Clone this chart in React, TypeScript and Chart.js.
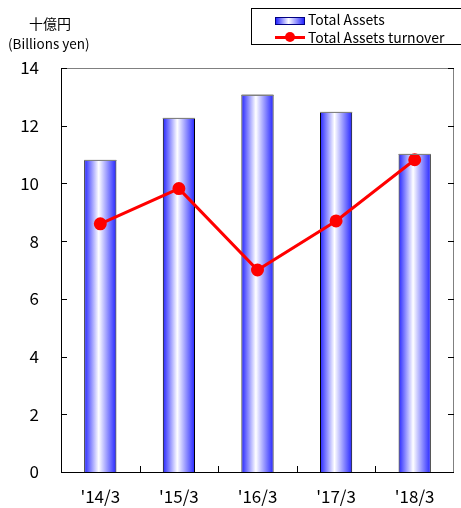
import React, { useEffect, useRef } from "react";
import { Chart, registerables } from "chart.js";

Chart.register(...registerables);

const categories = ["'14/3", "'15/3", "'16/3", "'17/3", "'18/3"];
const totalAssets = [10.82, 12.28, 13.08, 12.48, 11.03];
const assetsTurnover = [8.6, 9.82, 7.0, 8.7, 10.82];
const yTicks = [0, 2, 4, 6, 8, 10, 12, 14];

const FONT = '"Noto Sans CJK JP", "Noto Sans", sans-serif';

const decor = {
  id: "decor",
  beforeDatasetsDraw(chart: any) {
    const ctx = chart.ctx as CanvasRenderingContext2D;
    const meta = chart.getDatasetMeta(0);
    meta.data.forEach((el: any) => {
      const left = el.x - el.width / 2;
      const g = ctx.createLinearGradient(left, 0, left + el.width, 0);
      g.addColorStop(0, "#2424ff");
      g.addColorStop(0.45, "#ffffff");
      g.addColorStop(1, "#2424ff");
      el.options = Object.assign({}, el.options, { backgroundColor: g });
    });
  },
  afterDraw(chart: any) {
    const ctx = chart.ctx as CanvasRenderingContext2D;
    const { left, right, top, bottom } = chart.chartArea;
    const y = chart.scales.y;
    ctx.save();
    ctx.lineWidth = 1;
    ctx.strokeStyle = "#808080";
    ctx.beginPath();
    ctx.moveTo(left, top + 0.5);
    ctx.lineTo(right, top + 0.5);
    ctx.moveTo(right - 0.5, top);
    ctx.lineTo(right - 0.5, bottom);
    // gray top edge of bars
    chart.getDatasetMeta(0).data.forEach((el: any) => {
      const l = el.x - el.width / 2;
      const t = Math.round(el.y) + 0.5;
      ctx.moveTo(l, t);
      ctx.lineTo(l + el.width, t);
    });
    ctx.stroke();
    ctx.strokeStyle = "#000000";
    ctx.beginPath();
    ctx.moveTo(left + 0.5, top);
    ctx.lineTo(left + 0.5, bottom);
    ctx.moveTo(left, bottom + 0.5);
    ctx.lineTo(right, bottom + 0.5);
    yTicks.forEach((v) => {
      const py = Math.round(y.getPixelForValue(v)) + 0.5;
      ctx.moveTo(left, py);
      ctx.lineTo(left + 6, py);
      ctx.moveTo(right, py);
      ctx.lineTo(right - 6, py);
    });
    const n = categories.length;
    const w = (right - left) / n;
    for (let i = 1; i < n; i++) {
      const px = Math.round(left + i * w) + 0.5;
      ctx.moveTo(px, bottom);
      ctx.lineTo(px, bottom - 6);
    }
    ctx.stroke();
    ctx.restore();
  },
};

export default function App() {
  const ref = useRef<HTMLCanvasElement>(null);
  useEffect(() => {
    if (!ref.current) return;
    const chart = new Chart(ref.current, {
      type: "bar",
      data: {
        labels: categories,
        datasets: [
          {
            type: "bar",
            label: "Total Assets",
            data: totalAssets,
            backgroundColor: "#8080ff",
            borderColor: "#000000",
            borderWidth: 1,
            barPercentage: 0.41,
            categoryPercentage: 1,
            order: 2,
          },
          {
            type: "line",
            label: "Total Assets turnover",
            data: assetsTurnover,
            borderColor: "#ff0000",
            backgroundColor: "#ff0000",
            borderWidth: 3,
            pointRadius: 5,
            pointBackgroundColor: "#ff0000",
            pointBorderColor: "#ff0000",
            tension: 0,
            order: 1,
          },
        ],
      },
      options: {
        animation: false,
        responsive: false,
        maintainAspectRatio: false,
        layout: { padding: { top: 68, left: 0, right: 0, bottom: 0 } },
        plugins: { legend: { display: false }, tooltip: { enabled: false } },
        scales: {
          x: {
            grid: { display: false, drawTicks: false },
            border: { display: false },
            ticks: { color: "#000", font: { family: FONT, size: 17 }, padding: 14 },
            afterFit: (s: any) => {
              s.height = 36;
            },
          },
          y: {
            min: 0,
            max: 14,
            grid: { display: false, drawTicks: false },
            border: { display: false },
            ticks: { stepSize: 2, color: "#000", font: { family: FONT, size: 17 }, padding: 22 },
            afterFit: (s: any) => {
              s.width = 61;
            },
          },
        },
      },
      plugins: [decor],
    });
    return () => chart.destroy();
  }, []);

  return (
    <div
      style={{
        position: "fixed",
        left: 0,
        top: 0,
        width: 461,
        height: 508,
        overflow: "hidden",
        background: "#fff",
        fontFamily: FONT,
        color: "#000",
      }}
    >
      <canvas ref={ref} width={462} height={508} style={{ position: "absolute", left: 0, top: 0 }} />
      <div style={{ position: "absolute", left: 29, top: 13, fontSize: 14, lineHeight: "20px" }}>十億円</div>
      <div style={{ position: "absolute", left: 8, top: 34, fontSize: 13.5, lineHeight: "18px" }}>(Billions yen)</div>
      <div
        style={{
          position: "absolute",
          left: 251,
          top: 8,
          width: 230,
          height: 35,
          border: "1px solid #000",
          background: "#fff",
        }}
      >
        <div
          style={{
            position: "absolute",
            left: 23,
            top: 8,
            width: 28,
            height: 6,
            border: "1px solid #000080",
            background: "linear-gradient(to right, #2424ff, #ffffff 45%, #2424ff)",
          }}
        />
        <div style={{ position: "absolute", left: 56, top: 1, fontSize: 14, lineHeight: "19px" }}>Total Assets</div>
        <div style={{ position: "absolute", left: 23, top: 27, width: 30, height: 3, background: "#ff0000" }} />
        <div
          style={{
            position: "absolute",
            left: 33,
            top: 23,
            width: 10,
            height: 10,
            borderRadius: 5,
            background: "#ff0000",
          }}
        />
        <div style={{ position: "absolute", left: 56, top: 19, fontSize: 14, lineHeight: "19px" }}>
          Total Assets turnover
        </div>
      </div>
    </div>
  );
}
